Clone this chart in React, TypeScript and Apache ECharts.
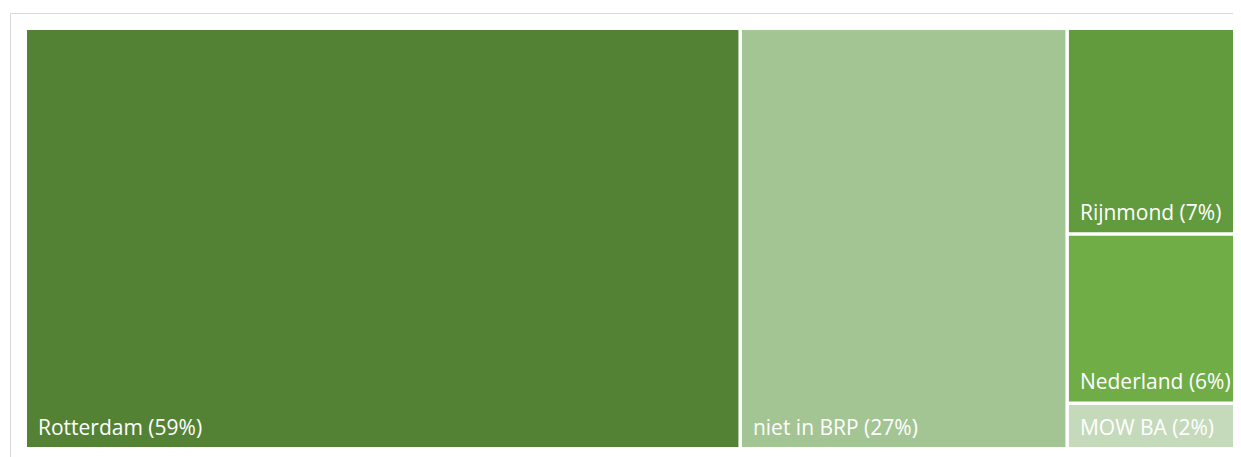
import React, { useEffect, useRef } from "react";
import * as echarts from "echarts";

const names = ["Rotterdam", "niet in BRP", "Rijnmond", "Nederland", "MOW BA"];
const shares = [58.6, 26.8, 6.8, 5.6, 1.5];
const pctLabels = ["59%", "27%", "7%", "6%", "2%"];
const colors = ["#548235", "#A3C493", "#629A3E", "#70AD47", "#C5D9BB"];

export default function App() {
  const ref = useRef<HTMLDivElement>(null);
  useEffect(() => {
    if (!ref.current) return;
    const chart = echarts.init(ref.current, null, { renderer: "svg" });
    const data = names.map((n, i) => ({
      name: n,
      value: shares[i],
      pct: pctLabels[i],
      itemStyle: { color: colors[i] },
    }));
    chart.setOption({
      animation: false,
      graphic: [
        {
          type: "rect",
          shape: { x: 2.5, y: 5.5, width: 1300, height: 500 },
          style: { fill: "none", stroke: "#d9d9d9", lineWidth: 1 },
          silent: true,
        },
      ],
      series: [
        {
          type: "treemap",
          left: 19,
          top: 22,
          width: 1208,
          height: 417,
          roam: false,
          nodeClick: false,
          breadcrumb: { show: false },
          levels: [
            { itemStyle: { borderWidth: 0, gapWidth: 3.5, borderColor: "#fff" } },
            { itemStyle: { borderWidth: 0, gapWidth: 0 } },
          ],
          label: {
            show: true,
            position: "insideBottomLeft",
            distance: 0,
            padding: [0, 0, 10, 11],
            color: "#ffffff",
            fontFamily: "Open Sans",
            fontSize: 21,
            formatter: (p: any) => `${p.name} (${p.data.pct})`,
          },
          upperLabel: { show: false },
          data,
        },
      ],
    });
    return () => chart.dispose();
  }, []);
  return <div ref={ref} style={{ width: 1233, height: 449 }} />;
}
